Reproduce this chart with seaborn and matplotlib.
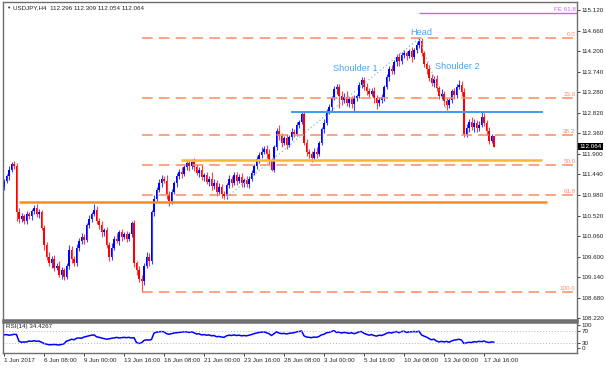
import matplotlib
matplotlib.use("Agg")
import matplotlib.pyplot as plt
import numpy as np
import pandas as pd
import seaborn as sns

# H4 closes, bar 0 = 1 Jun 2017 16:00
closes = [111.30, 111.40, 111.55, 111.68, 111.62, 110.60, 110.45, 110.50, 110.40, 110.55,
          110.50, 110.62, 110.68, 110.55, 110.60, 110.25, 109.85, 109.60, 109.45, 109.55,
          109.35, 109.40, 109.20, 109.30, 109.15, 109.40, 109.75, 109.55, 109.45, 109.80,
          109.95, 110.05, 109.98, 110.30, 110.45, 110.55, 110.65, 110.40, 110.30, 110.15,
          110.20, 109.85, 109.60, 109.80, 110.00, 109.95, 110.15, 110.05, 110.10, 110.00,
          110.10, 110.35, 109.45, 109.30, 109.10, 109.05, 109.40, 109.60, 109.50, 110.60,
          110.90, 111.10, 111.25, 111.35, 111.30, 111.00, 110.85, 111.05, 111.25, 111.40,
          111.50, 111.45, 111.60, 111.70, 111.62, 111.72, 111.60, 111.48, 111.55, 111.38,
          111.42, 111.28, 111.35, 111.18, 111.25, 111.05, 111.15, 111.00, 110.95, 111.20,
          111.35, 111.25, 111.42, 111.30, 111.38, 111.25, 111.32, 111.22, 111.35, 111.48,
          111.62, 111.78, 111.88, 111.95, 112.02, 111.90, 111.75, 111.55, 112.05, 112.42,
          112.30, 112.15, 112.25, 112.10, 112.28, 112.40, 112.35, 112.55, 112.62, 112.80,
          112.15, 111.95, 111.90, 111.82, 111.95, 111.90, 112.15, 112.45, 112.60, 112.85,
          112.95, 113.15, 113.35, 113.40, 113.20, 113.10, 113.18, 113.05, 113.12, 113.02,
          113.15, 113.20, 113.45, 113.55, 113.40, 113.32, 113.25, 113.30, 113.15, 113.05,
          113.10, 113.18, 113.40, 113.62, 113.80, 113.75, 113.95, 114.08, 113.98, 114.12,
          114.15, 114.10, 114.20, 114.08, 114.22, 114.35, 114.42, 114.15, 113.92, 113.80,
          113.60, 113.50, 113.58, 113.38, 113.20, 113.25, 113.08, 113.00, 113.10, 113.30,
          113.22, 113.40, 113.45, 113.28, 112.35, 112.48, 112.62, 112.50, 112.60, 112.48,
          112.55, 112.72, 112.60, 112.42, 112.20, 112.296, 112.064]
first_open = 111.15

# wick lengths in pips
up_wick = [5, 6, 8, 5, 6, 8, 10, 8, 6, 7,
           6, 5, 8, 10, 6, 5, 6, 8, 10, 7,
           8, 6, 10, 7, 5, 6, 12, 8, 6, 8,
           6, 7, 5, 6, 8, 6, 14, 8, 6, 10,
           5, 6, 8, 10, 6, 12, 5, 8, 6, 7,
           6, 5, 8, 6, 10, 8, 6, 10, 8, 5,
           8, 6, 10, 8, 6, 12, 8, 6, 5, 8,
           6, 10, 6, 5, 8, 6, 10, 8, 6, 12,
           6, 8, 6, 14, 8, 6, 10, 8, 6, 5,
           8, 6, 7, 8, 6, 10, 5, 8, 6, 5,
           6, 8, 6, 10, 5, 8, 12, 6, 5, 6,
           12, 8, 6, 10, 5, 8, 6, 6, 5, 7,
           6, 8, 5, 6, 8, 10, 5, 6, 8, 5,
           6, 5, 8, 7, 6, 10, 8, 12, 6, 8,
           6, 5, 6, 7, 8, 10, 6, 8, 10, 6,
           8, 6, 5, 6, 8, 10, 6, 5, 8, 6,
           8, 6, 5, 10, 6, 5, 7, 8, 6, 5,
           10, 8, 6, 8, 5, 10, 6, 8, 5, 6,
           8, 6, 10, 8, 10, 8, 6, 10, 8, 6,
           8, 12, 10, 6, 8, 5, 1.3]
dn_wick = [6, 5, 8, 6, 5, 20, 10, 8, 6, 8,
           5, 8, 6, 7, 8, 6, 10, 8, 6, 10,
           8, 6, 5, 10, 8, 6, 8, 10, 6, 5,
           8, 6, 10, 5, 6, 8, 5, 6, 8, 10,
           8, 6, 10, 8, 6, 5, 8, 10, 6, 8,
           6, 5, 8, 10, 6, 24, 8, 6, 10, 6,
           8, 6, 5, 8, 6, 10, 12, 6, 5, 8,
           6, 8, 5, 6, 10, 6, 8, 5, 10, 6,
           8, 6, 10, 8, 6, 10, 5, 8, 7, 6,
           6, 8, 5, 10, 6, 8, 10, 6, 8, 5,
           6, 5, 8, 6, 5, 10, 8, 4, 5, 6,
           8, 10, 6, 8, 5, 6, 8, 5, 6, 5,
           6, 10, 8, 10, 6, 8, 5, 6, 8, 5,
           6, 8, 5, 10, 27, 10, 6, 8, 10, 8,
           15, 6, 5, 8, 6, 10, 8, 6, 10, 14,
           8, 6, 10, 5, 8, 6, 5, 8, 10, 6,
           8, 10, 6, 12, 6, 5, 8, 6, 8, 10,
           6, 8, 10, 6, 8, 6, 10, 12, 6, 5,
           8, 6, 5, 8, 7, 6, 8, 6, 10, 8,
           6, 5, 8, 10, 8, 6, 1]

rsi = [58, 59, 57, 58, 60, 59, 37, 34, 35, 35,
       38, 37, 39, 37, 38, 34, 30, 28, 26, 26,
       27, 26, 25, 27, 29, 38, 40, 44, 42, 47,
       48, 47, 51, 53, 55, 57, 58, 52, 50, 48,
       46, 44, 45, 47, 48, 50, 48, 49, 50, 49,
       50, 48, 49, 33, 30, 32, 40, 42, 41, 43,
       64, 67, 68, 69, 68, 62, 60, 62, 64, 65,
       66, 67, 68, 68, 66, 68, 65, 61, 62, 58,
       59, 57, 58, 55, 56, 52, 53, 51, 50, 55,
       57, 56, 58, 56, 57, 55, 56, 55, 57, 59,
       62, 64, 66, 67, 68, 65, 62, 56, 62, 68,
       64, 62, 63, 61, 63, 64, 65, 68, 69, 71,
       55, 51, 50, 49, 51, 50, 53, 58, 60, 65,
       66, 69, 72, 66, 67, 64, 66, 65, 63, 65,
       62, 64, 68, 69, 63, 60, 57, 59, 56, 54,
       57, 56, 59, 63, 66, 64, 67, 69, 65, 69,
       70, 66, 68, 68, 69, 68, 70, 58, 54, 51,
       46, 42, 44, 38, 35, 37, 35, 37, 34, 38,
       41, 42, 44, 41, 30, 32, 34, 33, 36, 35,
       37, 36, 38, 35, 33, 35, 34.43]

date_bars = [0, 16, 32, 48, 64, 80, 96, 112, 128, 144, 160, 176, 192]
date_labels = ["1 Jun 2017", "6 Jun 08:00", "9 Jun 00:00", "13 Jun 16:00", "16 Jun 08:00",
               "21 Jun 00:00", "23 Jun 16:00", "28 Jun 08:00", "3 Jul 00:00", "5 Jul 16:00",
               "10 Jul 08:00", "13 Jul 00:00", "17 Jul 16:00"]
price_ticks = [115.12, 114.66, 114.20, 113.74, 113.28, 112.82, 112.36, 111.90, 111.44,
               110.98, 110.52, 110.06, 109.60, 109.14, 108.68, 108.22]
rsi_labels = ["100", "70", "30", "0"]

fib_names = ["0.0", "23.6", "38.2", "50.0", "61.8", "100.0"]
fib_ratio = [0.0, 0.236, 0.382, 0.5, 0.618, 1.0]
fib_high, fib_low = 114.49, 108.81
fe_level = 115.05
neckline, support1, support2 = 112.85, 111.77, 110.82

df = pd.DataFrame({"bar": np.arange(len(closes)), "close": closes,
                   "up": up_wick, "dn": dn_wick, "rsi": rsi})
df["open"] = np.r_[first_open, df["close"].values[:-1]]
df["high"] = np.maximum(df["open"], df["close"]) + df["up"] / 100
df["low"] = np.minimum(df["open"], df["close"]) - df["dn"] / 100

sns.set_style("white")
plt.rcParams["font.family"] = ["Liberation Sans", "DejaVu Sans"]

fig = plt.figure(figsize=(6.06, 3.68), dpi=100)
ax = fig.add_axes([3 / 606, 1 - 320 / 368, 574 / 606, 318 / 368])
ax2 = fig.add_axes([3 / 606, 1 - 352.7 / 368, 574 / 606, 30.7 / 368])

xl = (-0.4, 229.2)
grey = "#6e6e6e"
txt = "#222222"
fs = 4.5

# candles
bull = df["close"] >= df["open"]
cols = np.where(bull, "#0000ff", "#ff0000")
ax.vlines(df["bar"], df["low"], df["high"], colors=cols, lw=0.8, alpha=0.75)
body = (df["close"] - df["open"]).abs().clip(lower=0.012)
ax.bar(df["bar"], body, bottom=np.minimum(df["open"], df["close"]),
       width=0.75, color=cols, linewidth=0)

# fibonacci retracement
salmon = "#fb8b64"
i_low = 55
for name, r in zip(fib_names, fib_ratio):
    lvl = fib_high - r * (fib_high - fib_low)
    ax.hlines(lvl, i_low, xl[1], colors=salmon, lw=1.1, linestyles=(0, (7, 4)))
    ax.text(228.6, lvl + 0.02, name, color=salmon, fontsize=fs, ha="right", va="bottom")

# fibonacci expansion
pa, pb, pc = (88, 110.88), (166, 114.49), (177, 112.88)
ax.plot([pa[0], pb[0], pc[0]], [pa[1], pb[1], pc[1]], color="#7ec4c0",
        lw=0.9, linestyle=(0, (1, 2)))
ax.hlines(fe_level, pb[0], xl[1], colors="#e25ae2", lw=1.0)
ax.text(228.6, fe_level + 0.02, "FE 61.8", color="#e25ae2", fontsize=fs,
        ha="right", va="bottom")

# support / neckline
ax.hlines(neckline, 114.8, 215.6, colors="#3f9af0", lw=1.4)
ax.hlines(support1, 70.8, 215.2, colors="#ffb52e", lw=1.8)
ax.hlines(support2, 6, 217.2, colors="#ff8a1c", lw=1.8)

lab = dict(color="#4aa3f0", fontsize=6.6, ha="center", va="center")
ax.text(167, 114.63, "Head", **lab)
ax.text(140.4, 113.82, "Shoulder 1", **lab)
ax.text(181.2, 113.85, "Shoulder 2", **lab)

ax.set_xlim(*xl)
ax.set_ylim(108.181, 115.303)
ax.set_xticks([])
ax.yaxis.tick_right()
ax.set_yticks(price_ticks)
ax.set_yticklabels([f"{p:.3f}" for p in price_ticks])
ax.tick_params(axis="y", right=True, length=2, width=0.6, pad=1.5,
               labelsize=fs, colors=txt)
ax.text(1.004, 112.064, "112.064", transform=ax.get_yaxis_transform(),
        color="white", fontsize=fs, ha="left", va="center",
        bbox=dict(facecolor="black", edgecolor="none", pad=0.8))

# RSI
sns.lineplot(data=df, x="bar", y="rsi", ax=ax2, color="#0000ff", lw=1.1)
ax2.axhline(70, color="#b5b5b5", lw=0.7, linestyle=(0, (1, 2)))
ax2.axhline(30, color="#b5b5b5", lw=0.7, linestyle=(0, (1, 2)))
ax2.set_xlim(*xl)
ax2.set_ylim(0, 100)
ax2.yaxis.tick_right()
ax2.set_yticks([90, 70, 30, 14])
ax2.set_yticklabels(rsi_labels)
ax2.tick_params(axis="y", right=True, length=2, width=0.6, pad=1.5,
                labelsize=fs, colors=txt)
ax2.set_xticks(date_bars)
ax2.set_xticklabels(date_labels, ha="left")
ax2.tick_params(axis="x", bottom=True, length=2, width=0.6, pad=1.5,
                labelsize=fs, colors=txt)
ax2.set_xlabel("")
ax2.set_ylabel("")
ax2.text(0.005, 0.93, "RSI(14) 34.4267", transform=ax2.transAxes,
         fontsize=fs, color=txt, ha="left", va="top")

for a in (ax, ax2):
    for s in a.spines.values():
        s.set_color(grey)
        s.set_linewidth(1.0)
ax.spines["bottom"].set_linewidth(1.8)
ax2.spines["top"].set_linewidth(1.8)

fig.text(6 / 606, 1 - 8 / 368, "\u25bc", fontsize=3.2, color=txt, va="center")
fig.text(13 / 606, 1 - 8 / 368, "USDJPY,H4  112.296 112.309 112.054 112.064",
         fontsize=fs, color=txt, va="center")

fig.savefig("out.png", dpi=100)
